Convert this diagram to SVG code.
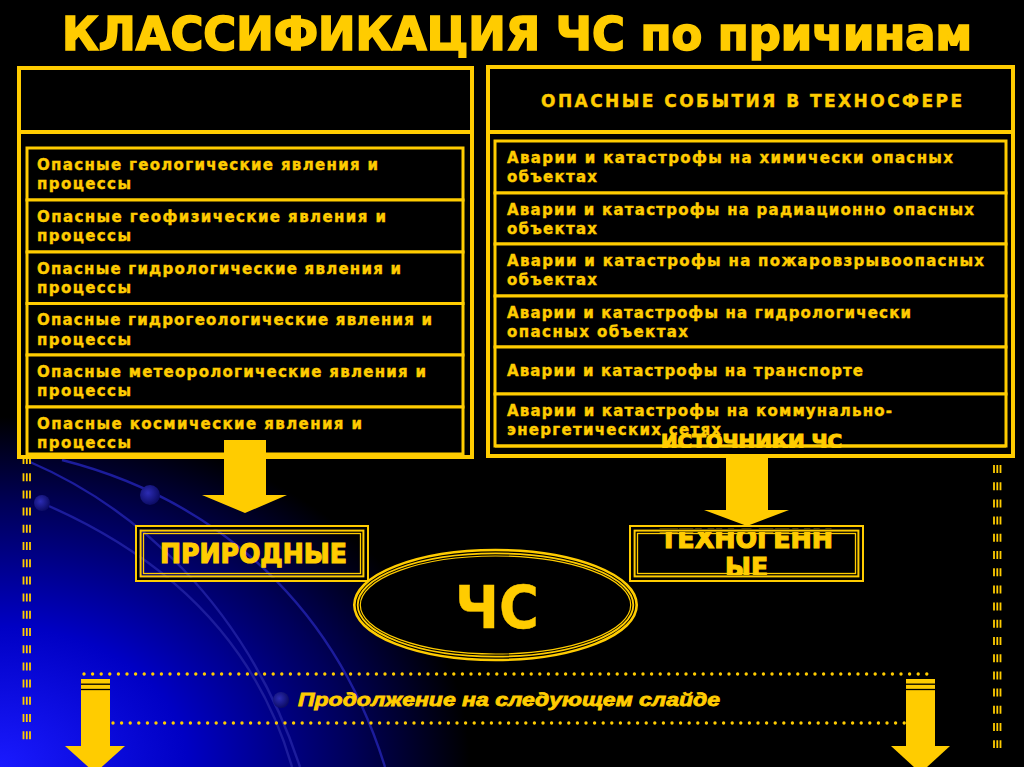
<svg xmlns="http://www.w3.org/2000/svg" width="1024" height="767" viewBox="0 0 1024 767">
<defs>
<radialGradient id="bg" gradientUnits="userSpaceOnUse" cx="0" cy="0" r="1" gradientTransform="translate(0 767) scale(470 350)">
<stop offset="0" stop-color="#1a1aff"/>
<stop offset="0.4" stop-color="#0000c4"/>
<stop offset="0.75" stop-color="#000058"/>
<stop offset="1" stop-color="#000000"/>
</radialGradient>
<radialGradient id="dot" cx="0.4" cy="0.4" r="0.6">
<stop offset="0" stop-color="#2c2cb4"/>
<stop offset="1" stop-color="#0c0c66"/>
</radialGradient>
</defs>
<style>
.t{font-family:"DejaVu Sans","Liberation Sans",Arial,sans-serif;font-weight:bold;fill:#FFCC00;stroke:#FFCC00;stroke-width:0.4}
.row{font-size:15px}
.heavy{stroke-width:1.2}
.box{fill:#000;stroke:#FFCC00;stroke-width:3}
.fr{fill:none;stroke:#FFCC00}
.gap{fill:none;stroke:#000}
.orb{fill:none;stroke:#1c1c9c;stroke-width:2.4}
.rail{stroke:#FFCC00;stroke-width:1.8;stroke-dasharray:8 9.2}
.dots{stroke:#FFCC00;stroke-width:3.4;stroke-linecap:round;stroke-dasharray:0 8.6}
.ar{fill:#FFCC00}
</style>

<rect x="0" y="0" width="1024" height="767" fill="#000"/>
<rect x="0" y="0" width="1024" height="767" fill="url(#bg)"/>

<g id="background-orbits">
<path class="orb" d="M30,462 C130,505 245,600 300,767"/>
<path class="orb" d="M42,503 C140,545 250,620 292,767"/>
<path class="orb" d="M62,460 C200,495 330,590 385,767"/>
<circle cx="150" cy="495" r="10" fill="url(#dot)"/>
<circle cx="42" cy="503" r="8" fill="url(#dot)"/>
<circle cx="281" cy="700" r="8" fill="url(#dot)"/>
</g>

<g id="side-rails">
<line class="rail" x1="23.5" y1="456" x2="23.5" y2="742"/>
<line class="rail" x1="26.8" y1="456" x2="26.8" y2="742"/>
<line class="rail" x1="30" y1="456" x2="30" y2="742"/>
<line class="rail" x1="994" y1="465" x2="994" y2="748"/>
<line class="rail" x1="997.3" y1="465" x2="997.3" y2="748"/>
<line class="rail" x1="1000.5" y1="465" x2="1000.5" y2="748"/>
</g>

<g id="title">
<text x="62" y="50" font-family="'DejaVu Sans Condensed','Liberation Sans',Arial,sans-serif" font-weight="bold" fill="#FFCC00" stroke="#FFCC00" stroke-width="1.6" font-size="47" textLength="910" lengthAdjust="spacingAndGlyphs">КЛАССИФИКАЦИЯ ЧС по причинам</text>
</g>

<g id="natural-panel">
<rect x="19" y="68" width="453" height="389" fill="#000" stroke="#FFCC00" stroke-width="4"/>
<line x1="19" y1="132" x2="472" y2="132" stroke="#FFCC00" stroke-width="4"/>
</g>
<g id="n-row-1">
<rect class="box" x="27" y="148" width="436" height="52"/>
<text class="t row" x="37" y="169.5" textLength="341" lengthAdjust="spacing">Опасные геологические явления и</text>
<text class="t row" x="37" y="189" textLength="94" lengthAdjust="spacing">процессы</text>
</g>
<g id="n-row-2">
<rect class="box" x="27" y="200" width="436" height="52"/>
<text class="t row" x="37" y="221.5" textLength="349" lengthAdjust="spacing">Опасные геофизические явления и</text>
<text class="t row" x="37" y="241" textLength="94" lengthAdjust="spacing">процессы</text>
</g>
<g id="n-row-3">
<rect class="box" x="27" y="252" width="436" height="51.5"/>
<text class="t row" x="37" y="273.5" textLength="364" lengthAdjust="spacing">Опасные гидрологические явления и</text>
<text class="t row" x="37" y="293" textLength="94" lengthAdjust="spacing">процессы</text>
</g>
<g id="n-row-4">
<rect class="box" x="27" y="303.5" width="436" height="51.5"/>
<text class="t row" x="37" y="325" textLength="395" lengthAdjust="spacing">Опасные гидрогеологические явления и</text>
<text class="t row" x="37" y="344.5" textLength="94" lengthAdjust="spacing">процессы</text>
</g>
<g id="n-row-5">
<rect class="box" x="27" y="355" width="436" height="52"/>
<text class="t row" x="37" y="376.5" textLength="389" lengthAdjust="spacing">Опасные метеорологические явления и</text>
<text class="t row" x="37" y="396" textLength="94" lengthAdjust="spacing">процессы</text>
</g>
<g id="n-row-6">
<rect class="box" x="27" y="407" width="436" height="47"/>
<text class="t row" x="37" y="428.5" textLength="325" lengthAdjust="spacing">Опасные космические явления и</text>
<text class="t row" x="37" y="448" textLength="94" lengthAdjust="spacing">процессы</text>
</g>

<g id="techno-panel">
<rect x="488" y="67" width="525" height="389" fill="#000" stroke="#FFCC00" stroke-width="4"/>
<line x1="488" y1="132" x2="1013" y2="132" stroke="#FFCC00" stroke-width="4"/>
<text class="t" x="541" y="107" font-size="17" textLength="421" lengthAdjust="spacing">ОПАСНЫЕ СОБЫТИЯ В ТЕХНОСФЕРЕ</text>
</g>
<g id="t-row-1">
<rect class="box" x="495" y="141" width="511" height="52"/>
<text class="t row" x="507" y="162.5" textLength="446" lengthAdjust="spacing">Аварии и катастрофы на химически опасных</text>
<text class="t row" x="507" y="182" textLength="90" lengthAdjust="spacing">объектах</text>
</g>
<g id="t-row-2">
<rect class="box" x="495" y="193" width="511" height="51"/>
<text class="t row" x="507" y="214.5" textLength="467" lengthAdjust="spacing">Аварии и катастрофы на радиационно опасных</text>
<text class="t row" x="507" y="234" textLength="90" lengthAdjust="spacing">объектах</text>
</g>
<g id="t-row-3">
<rect class="box" x="495" y="244" width="511" height="52"/>
<text class="t row" x="507" y="265.5" textLength="477" lengthAdjust="spacing">Аварии и катастрофы на пожаровзрывоопасных</text>
<text class="t row" x="507" y="285" textLength="90" lengthAdjust="spacing">объектах</text>
</g>
<g id="t-row-4">
<rect class="box" x="495" y="296" width="511" height="51"/>
<text class="t row" x="507" y="317.5" textLength="404" lengthAdjust="spacing">Аварии и катастрофы на гидрологически</text>
<text class="t row" x="507" y="337" textLength="181" lengthAdjust="spacing">опасных объектах</text>
</g>
<g id="t-row-5">
<rect class="box" x="495" y="347" width="511" height="47"/>
<text class="t row" x="507" y="376" textLength="356" lengthAdjust="spacing">Аварии и катастрофы на транспорте</text>
</g>
<g id="t-row-6">
<rect class="box" x="495" y="394" width="511" height="52"/>
<text class="t row" x="507" y="415.5" textLength="385" lengthAdjust="spacing">Аварии и катастрофы на коммунально-</text>
<text class="t row" x="507" y="435" textLength="214" lengthAdjust="spacing">энергетических сетях</text>
</g>
<g id="sources-label">
<text class="t heavy" x="661" y="448" font-size="20" textLength="181" lengthAdjust="spacingAndGlyphs">ИСТОЧНИКИ ЧС</text>
<line x1="495" y1="446" x2="1006" y2="446" stroke="#FFCC00" stroke-width="3"/>
<rect x="497" y="448" width="507" height="5" fill="#000"/>
</g>

<g id="connectors">
<polygon class="ar" points="224,440 266,440 266,495 287,495 245,513 202,495 224,495"/>
<polygon class="ar" points="726,456 768,456 768,510 789,510 747,526 704,510 726,510"/>
<rect class="ar" x="81" y="679" width="29" height="67"/>
<line x1="81" y1="684.2" x2="110" y2="684.2" stroke="#000" stroke-width="1.3"/>
<line x1="81" y1="689.5" x2="110" y2="689.5" stroke="#000" stroke-width="1.3"/>
<polygon class="ar" points="65,746 125,746 95,773"/>
<rect class="ar" x="906" y="679" width="29" height="67"/>
<line x1="906" y1="684.2" x2="935" y2="684.2" stroke="#000" stroke-width="1.3"/>
<line x1="906" y1="689.5" x2="935" y2="689.5" stroke="#000" stroke-width="1.3"/>
<polygon class="ar" points="891,746 950,746 920.5,773"/>
</g>

<g id="natural">
<text class="t heavy" x="160" y="563" font-size="27" textLength="187" lengthAdjust="spacingAndGlyphs">ПРИРОДНЫЕ</text>
<rect class="gap" x="138.2" y="528.2" width="227.6" height="50.6" stroke-width="2.6"/>
<rect class="fr" x="136" y="526" width="232" height="55" stroke-width="2"/>
<rect class="fr" x="140.6" y="530.6" width="222.8" height="45.8" stroke-width="2"/>
<rect class="fr" x="143.5" y="533.5" width="217" height="40" stroke-width="1.3"/>
</g>

<g id="technogenic">
<text class="t heavy" x="660" y="548" font-size="26" textLength="173" lengthAdjust="spacingAndGlyphs">ТЕХНОГЕНН</text>
<text class="t heavy" x="725" y="577" font-size="26" textLength="43" lengthAdjust="spacingAndGlyphs">ЫЕ</text>
<rect class="gap" x="631.2" y="527.2" width="230.6" height="52.6" stroke-width="2.6"/>
<rect class="gap" x="634.3" y="530.3" width="224.4" height="46.4" stroke-width="3.4"/>
<rect class="fr" x="630" y="526" width="233" height="55" stroke-width="2"/>
<rect class="fr" x="634.6" y="530.6" width="223.8" height="45.8" stroke-width="2"/>
<rect class="fr" x="637.5" y="533.5" width="218" height="40" stroke-width="1.3"/>
</g>

<g id="chs">
<ellipse cx="495.5" cy="605" rx="141.2" ry="55" fill="#000" stroke="#FFCC00" stroke-width="2.6"/>
<ellipse class="fr" cx="495.5" cy="605" rx="137.8" ry="51.6" stroke-width="1.8"/>
<ellipse class="fr" cx="495.5" cy="605" rx="135.2" ry="49" stroke-width="1.2"/>
<text class="t" x="455" y="628" font-size="59" stroke-width="2.5" textLength="84" lengthAdjust="spacingAndGlyphs">ЧС</text>
</g>

<g id="continue-note">
<line class="dots" x1="84" y1="674" x2="933" y2="674"/>
<line class="dots" x1="113" y1="723" x2="905" y2="723"/>
<text x="298" y="706" font-family="'Liberation Sans',Arial,sans-serif" font-weight="bold" font-style="italic" fill="#FFCC00" stroke="#FFCC00" stroke-width="0.8" font-size="19" textLength="422" lengthAdjust="spacingAndGlyphs">Продолжение на следующем слайде</text>
</g>
</svg>
